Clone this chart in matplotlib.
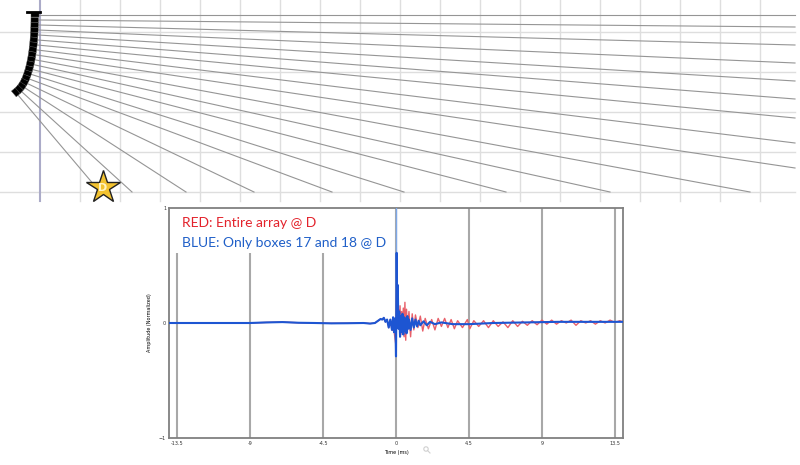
import matplotlib.pyplot as plt
import numpy as np

# --- top diagram (pixel units of the picture) ---
ray_start_x = [38.5, 38.47, 38.37, 38.19, 37.92, 37.56, 37.11, 36.54, 35.84,
               34.99, 33.96, 32.75, 31.31, 29.6, 27.54, 24.99, 21.83, 18.15]
ray_start_y = [15, 20, 25, 30, 35, 40, 45, 49.9, 54.9,
               59.8, 64.7, 69.6, 74.4, 79.1, 83.6, 87.9, 91.8, 95.2]
ray_end_x = [795, 795, 795, 795, 795, 795, 795, 795, 795,
             750, 610, 506, 404, 332, 254, 186, 132, 95]
ray_end_y = [15, 27, 45, 63, 81, 99, 118, 143, 168,
             192, 192, 192, 192, 192, 192, 192, 192, 186]
grid_x = [80, 120, 160, 200, 240, 280, 320, 360, 400, 440, 480, 520,
          560, 600, 640, 680, 720, 760]
grid_y = [32, 72, 112, 152, 192]
star_xy = (103, 187)

# --- impulse response ---
t_blue = [-14, -9, -8, -7, -6, -5, -4, -3, -2, -1.6, -1.3, -1.1, -0.95, -0.85,
          -0.75, -0.65, -0.55, -0.45, -0.35, -0.25, -0.18, -0.12, -0.06, -0.03,
          0.0, 0.04, 0.08, 0.11, 0.15, 0.2, 0.25, 0.3, 0.35, 0.4, 0.45, 0.5,
          0.55, 0.6, 0.65, 0.7, 0.75, 0.8, 0.9, 1.0, 1.1, 1.2, 1.3, 1.4, 1.5,
          1.7, 1.9, 2.1, 2.4, 2.8, 3.5, 4.5, 6, 8, 10, 12, 14]
a_blue = [0, 0, 0.005, 0.008, 0.002, 0.0, -0.003, -0.002, 0.0, -0.005, 0.0, 0.02,
          0.035, 0.03, 0.045, 0.01, 0.03, -0.04, 0.03, -0.06, 0.05, -0.08, 0.04, -0.05,
          -0.29, 0.61, 0.05, 0.33, -0.05, 0.1, -0.12, 0.06, -0.08, 0.08, -0.1, 0.05,
          -0.07, 0.04, -0.09, 0.06, -0.05, 0.03, -0.06, 0.04, -0.04, 0.03, -0.03, 0.02, -0.02,
          0.015, -0.02, 0.01, -0.01, 0.005, -0.01, -0.01, 0.0, 0.005, 0.01, 0.01, 0.01]

t_red = [-14, -9, -8, -7, -6, -5, -4, -3, -2, -1.6, -1.3, -1.1, -0.95, -0.85,
         -0.75, -0.65, -0.55, -0.45, -0.35, -0.25, -0.12, 0.0, 0.04, 0.1, 0.15,
         0.2, 0.25, 0.3, 0.35, 0.4, 0.45, 0.5, 0.55, 0.6, 0.65, 0.7, 0.8, 0.9,
         1.0, 1.1, 1.2, 1.35, 1.5, 1.65, 1.8, 2.0, 2.2, 2.4, 2.6, 2.8, 3.0, 3.2,
         3.4, 3.6, 3.8, 4.1, 4.4, 4.55, 4.8, 5.1, 5.4, 5.7, 6.0, 6.3, 6.6, 6.9,
         7.2, 7.5, 7.8, 8.1, 8.4, 8.7, 9.0, 9.3, 9.6, 9.9, 10.2, 10.5, 10.8,
         11.1, 11.4, 11.7, 12.0, 12.3, 12.6, 12.9, 13.2, 13.5, 13.8, 14]
a_red = [0, 0, 0.005, 0.008, 0.002, 0.0, -0.003, -0.002, 0.0, -0.005, 0.0, 0.02,
         0.035, 0.03, 0.045, 0.01, 0.03, -0.04, 0.03, -0.06, -0.07, -0.2, 0.35, 0.08, 0.12,
         -0.05, 0.15, -0.1, 0.1, -0.08, 0.13, -0.12, 0.18, -0.15, 0.12, -0.08, 0.1, -0.12,
         0.08, -0.06, 0.07, -0.04, 0.06, -0.07, 0.04, -0.05, 0.03, -0.06, 0.04, -0.03, 0.04, -0.04,
         0.03, -0.05, 0.02, -0.04, 0.03, -0.05, 0.02, -0.03, 0.02, -0.04, 0.02, -0.03, 0.01, -0.04,
         0.02, -0.03, 0.015, -0.02, 0.02, -0.015, 0.025, -0.01, 0.025, -0.01, 0.02, 0.0, 0.025,
         -0.02, 0.02, 0.0, 0.02, -0.01, 0.02, 0.0, 0.025, 0.005, 0.02, 0.01]

x_ticks = [-13.5, -9, -4.5, 0, 4.5, 9, 13.5]
x_tick_labels = ['-13.5', '-9', '-4.5', '0', '4.5', '9', '13.5']
y_ticks = [-1, 0, 1]

W, H = 800, 465
fig = plt.figure(figsize=(W / 100, H / 100), dpi=100)

# overlay axes in pixel coordinates for the array drawing
top = fig.add_axes([0, 0, 1, 1])
top.set_xlim(0, W)
top.set_ylim(H, 0)
top.axis('off')

for gx in grid_x:
    top.plot([gx, gx], [0, 201], color='#dedede', lw=1, zorder=1)
for gy in grid_y:
    top.plot([0, 795], [gy, gy], color='#dedede', lw=1, zorder=1)
top.plot([40, 40], [0, 201], color='#ababc8', lw=1.5, zorder=2)

for i in range(len(ray_start_x)):
    top.plot([ray_start_x[i], ray_end_x[i]], [ray_start_y[i], ray_end_y[i]],
             color='#959595', lw=0.8, zorder=3)

# boxes of the line array, each one aimed along its ray
bw, bh = 7.5, 5.0
for i in range(len(ray_start_x)):
    p = np.array([ray_start_x[i], ray_start_y[i]])
    u = np.array([ray_end_x[i], ray_end_y[i]]) - p
    u = u / np.linalg.norm(u)
    n = np.array([-u[1], u[0]])
    corners = [p + n * bh / 2, p - n * bh / 2, p - u * bw - n * bh / 2, p - u * bw + n * bh / 2]
    top.add_patch(plt.Polygon(corners, closed=True, facecolor='black',
                              edgecolor='#555555', lw=0.3, zorder=4))
top.plot([27, 40], [12, 12], color='black', lw=2, zorder=5)

top.plot(star_xy[0], star_xy[1], marker='*', markersize=25, color='#f2c230',
         markeredgecolor='#222222', markeredgewidth=1, zorder=6)
top.text(star_xy[0], star_xy[1] + 1, 'D', color='#fff4c4', fontsize=8,
         ha='center', va='center', zorder=7, fontweight='bold')

# little magnifier icon next to the time label
top.add_patch(plt.Circle((426, 449), 2.2, fill=False, edgecolor='#d0d0d0', lw=0.8))
top.plot([427.5, 430], [450.5, 453], color='#d0d0d0', lw=0.8)

# --- impulse response plot ---
ax = fig.add_axes([169 / W, (H - 438) / H, 454 / W, 230 / H])
ax.set_xlim(-14, 14)
ax.set_ylim(-1, 1)
for xt in x_ticks:
    ax.axvline(xt, color='#a8a8a8', lw=1.5, zorder=1)
ax.add_patch(plt.Rectangle((0, 0.805), 0.49, 0.2, transform=ax.transAxes,
                           facecolor='white', edgecolor='none', zorder=2))
ax.plot([0, 0], [0.6, 1], color='#7ea8e8', lw=1, zorder=3)

ax.plot(t_red, a_red, color='#e8606a', lw=1.0, zorder=4)
ax.plot(t_blue, a_blue, color='#1d55d2', lw=1.5, zorder=5)

ax.text(0.029, 0.935, 'RED: Entire array @ D', color='#e3232c', fontsize=10,
        family=['Lato', 'DejaVu Sans'], transform=ax.transAxes, va='center', zorder=6)
ax.text(0.029, 0.848, 'BLUE: Only boxes 17 and 18 @ D', color='#1f5fc8', fontsize=10,
        family=['Lato', 'DejaVu Sans'], transform=ax.transAxes, va='center', zorder=6)

ax.set_xticks(x_ticks)
ax.set_xticklabels(x_tick_labels)
ax.set_yticks(y_ticks)
ax.tick_params(length=0, labelsize=3.5, labelcolor='#333333', pad=2)
ax.set_xlabel('Time (ms)', fontsize=3.5, labelpad=3)
ax.set_ylabel('Amplitude (Normalized)', fontsize=3.5, labelpad=5)
for s in ax.spines.values():
    s.set_color('#808080')
    s.set_linewidth(1.3)

fig.savefig('out.png', dpi=100)
